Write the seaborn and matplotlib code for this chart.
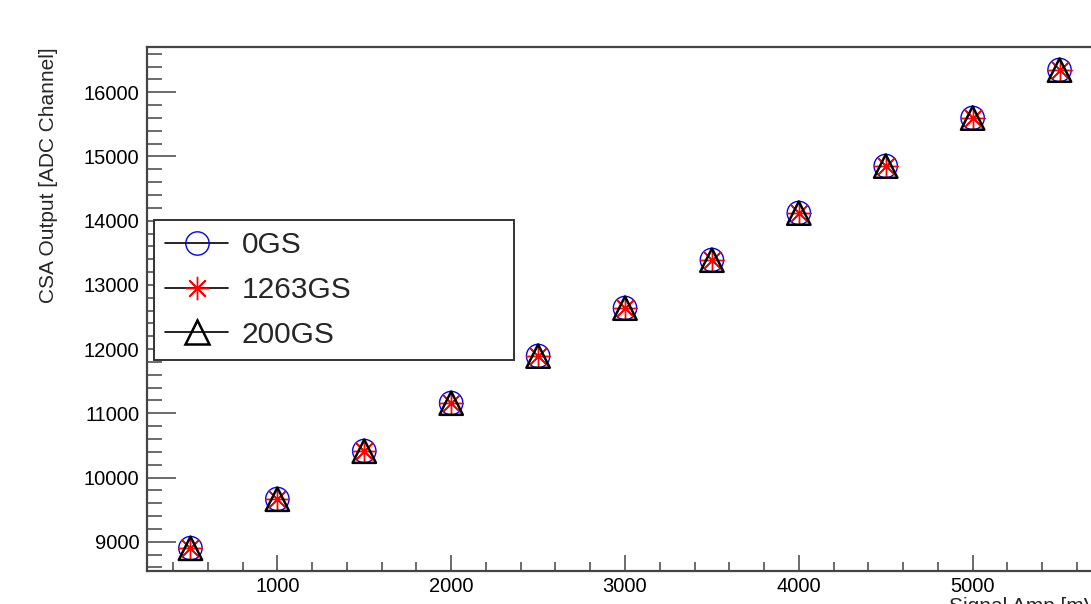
import matplotlib
matplotlib.use("Agg")
import matplotlib.pyplot as plt
import seaborn as sns
import pandas as pd
from matplotlib.lines import Line2D
from matplotlib.ticker import MultipleLocator

# ---- data ----
signal_amp = [500, 1000, 1500, 2000, 2500, 3000, 3500, 4000, 4500, 5000, 5500]
out_0GS = [8900, 9665, 10413, 11160, 11893, 12640, 13388, 14120, 14852, 15600, 16347]
out_1263GS = [8895, 9660, 10408, 11155, 11890, 12635, 13383, 14115, 14848, 15595, 16342]
out_200GS = [8898, 9662, 10410, 11158, 11891, 12638, 13385, 14118, 14850, 15598, 16345]
series_names = ["0GS", "1263GS", "200GS"]

sns.set_theme(style="white")
plt.rcParams['font.family'] = ['Liberation Sans', 'DejaVu Sans']

fig = plt.figure(figsize=(10.91, 6.04), dpi=100)
W, H = 1091, 604
ax = fig.add_axes([147 / W, 1 - 571 / H, (1103 - 147) / W, (571 - 47) / H])

df = pd.DataFrame({"x": signal_amp * 3,
                   "y": out_0GS + out_1263GS + out_200GS,
                   "s": [series_names[0]] * 11 + [series_names[1]] * 11 + [series_names[2]] * 11})

msize = 16.8
d0 = df[df.s == "0GS"]
d1 = df[df.s == "1263GS"]
d2 = df[df.s == "200GS"]
sns.scatterplot(data=d0, x="x", y="y", ax=ax, marker="o", s=msize**2,
                facecolor="none", edgecolor="blue", linewidth=1.0, legend=False, zorder=3)
sns.scatterplot(data=d1, x="x", y="y", ax=ax, marker=(8, 2, 0), s=msize**2,
                color="red", linewidth=1.0, legend=False, zorder=4)
sns.scatterplot(data=d1, x="x", y="y", ax=ax, marker="o", s=16,
                color="red", linewidth=0, legend=False, zorder=4)
sns.scatterplot(data=d2, x="x", y="y", ax=ax, marker="^", s=msize**2,
                facecolor="none", edgecolor="black", linewidth=1.8, legend=False, zorder=5)

ax.set_xlim(250, 5750)
ax.set_ylim(8544, 16705)

ax.xaxis.set_major_locator(MultipleLocator(1000))
ax.xaxis.set_minor_locator(MultipleLocator(200))
ax.yaxis.set_major_locator(MultipleLocator(1000))
ax.yaxis.set_minor_locator(MultipleLocator(200))

axcol = "#444444"
for sp in ax.spines.values():
    sp.set_color(axcol)
    sp.set_linewidth(1.6)
ax.tick_params(axis="y", which="major", direction="in", length=21, width=1.1,
               color=axcol, labelsize=14.5, pad=5.5, left=True, labelcolor="black")
ax.tick_params(axis="y", which="minor", direction="in", length=11, width=1.1,
               color=axcol, left=True)
ax.tick_params(axis="x", which="major", direction="in", length=11.5, width=1.1,
               color=axcol, labelsize=14.5, pad=4, bottom=True, labelcolor="black")
ax.tick_params(axis="x", which="minor", direction="in", length=6.5, width=1.1,
               color=axcol, bottom=True)

ax.set_xlabel("Signal Amp [mV]", fontsize=15, loc="right")
ax.set_ylabel("CSA Output [ADC Channel]", fontsize=15, loc="top")
ax.xaxis.set_label_coords(1.0, (571 - 597) / (571 - 47))
ax.yaxis.set_label_coords((58 - 147) / (1103 - 147), 1.0)

handles = [
    Line2D([0], [0], color="black", lw=1.2, marker="o", markersize=msize,
           markerfacecolor="none", markeredgecolor="blue", markeredgewidth=1.0),
    Line2D([0], [0], color="black", lw=1.2, marker=(8, 2, 0), markersize=msize,
           markeredgecolor="red", markerfacecolor="red", markeredgewidth=1.0),
    Line2D([0], [0], color="black", lw=1.2, marker="^", markersize=msize,
           markerfacecolor="none", markeredgecolor="black", markeredgewidth=1.8),
]
x0, x1 = 154 / W, 514 / W
yt, yb = 1 - 220 / H, 1 - 358 / H
leg = fig.legend(handles, series_names, loc="upper left",
                 bbox_to_anchor=(x0, yb, x1 - x0, yt - yb), mode="expand",
                 fontsize=21.5, frameon=True, fancybox=False, framealpha=1,
                 edgecolor="#333333", handlelength=2.1, handletextpad=0.45,
                 labelspacing=0.56, borderpad=0.38, borderaxespad=0)
leg.get_frame().set_linewidth(1.4)

fig.savefig("out.png", dpi=100)
